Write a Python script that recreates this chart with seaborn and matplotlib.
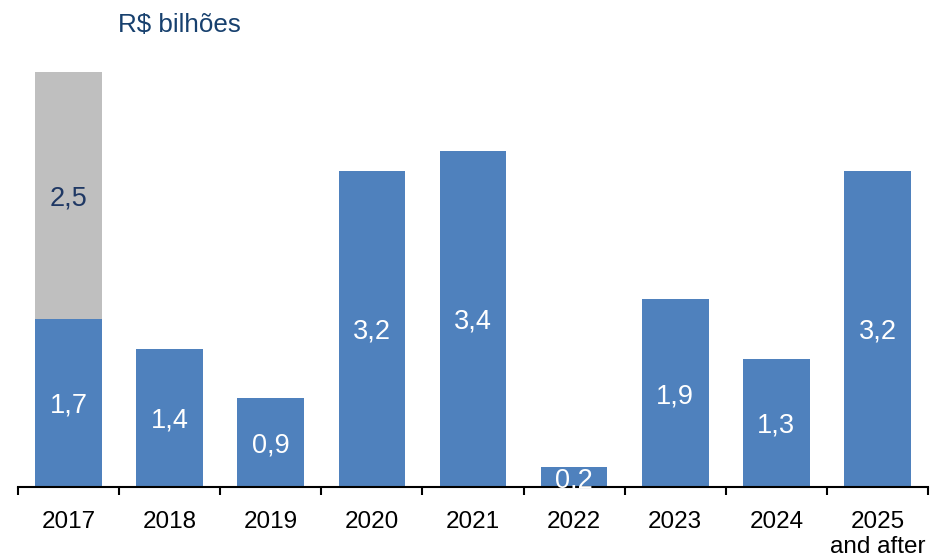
import matplotlib
matplotlib.use("Agg")
import matplotlib.pyplot as plt
import seaborn as sns
import pandas as pd
import numpy as np

categories = ["2017", "2018", "2019", "2020", "2021", "2022", "2023", "2024", "2025\nand after"]
blue_values = [1.7, 1.4, 0.9, 3.2, 3.4, 0.2, 1.9, 1.3, 3.2]
gray_values = [2.5, 0, 0, 0, 0, 0, 0, 0, 0]
blue_labels = ["1,7", "1,4", "0,9", "3,2", "3,4", "0,2", "1,9", "1,3", "3,2"]
gray_labels = ["2,5", "", "", "", "", "", "", "", ""]

sns.set_theme(style="white")
plt.rcParams["font.family"] = ["Liberation Sans", "DejaVu Sans"]

df = pd.DataFrame({
    "cat": categories,
    "blue": blue_values,
    "total": [b + g for b, g in zip(blue_values, gray_values)],
})

fig = plt.figure(figsize=(9.31, 5.58), dpi=100)
ax = fig.add_axes([18/931, (558-487)/558, (928-18)/931, (487-62)/558])

sns.barplot(data=df, x="cat", y="total", color="#BFBFBF", saturation=1, width=0.66,
            linewidth=0, edgecolor="none", ax=ax)
sns.barplot(data=df, x="cat", y="blue", color="#4F81BD", saturation=1, width=0.66,
            linewidth=0, edgecolor="none", ax=ax)

ax.set_xlim(-0.5, len(categories) - 0.5)
ax.set_ylim(0, 4.3)
ax.set_xlabel("")
ax.set_ylabel("")
ax.set_yticks([])
for s in ["top", "left", "right"]:
    ax.spines[s].set_visible(False)
ax.spines["bottom"].set_color("black")
ax.spines["bottom"].set_linewidth(1.5)

ax.set_xticks(range(len(categories)))
ax.set_xticklabels(categories, fontsize=17.5, color="black", linespacing=1.2, va="top")
ax.tick_params(axis="x", which="major", length=0, pad=17)
ax.set_xticks(np.arange(-0.5, len(categories)), minor=True)
ax.tick_params(axis="x", which="minor", length=6, width=1.5, color="black", direction="out", bottom=True)

for i, (b, g) in enumerate(zip(blue_values, gray_values)):
    ax.text(i, b / 2, blue_labels[i], ha="center", va="center_baseline", fontsize=19.5, color="white")
    if g > 0:
        ax.text(i, b + g / 2, gray_labels[i], ha="center", va="center_baseline", fontsize=19.5, color="#1F3864")

fig.text(118/931, 1 - 25/558, "R$ bilhões", ha="left", va="center", fontsize=18.7, color="#17406E")

fig.savefig("out.png", dpi=100)
